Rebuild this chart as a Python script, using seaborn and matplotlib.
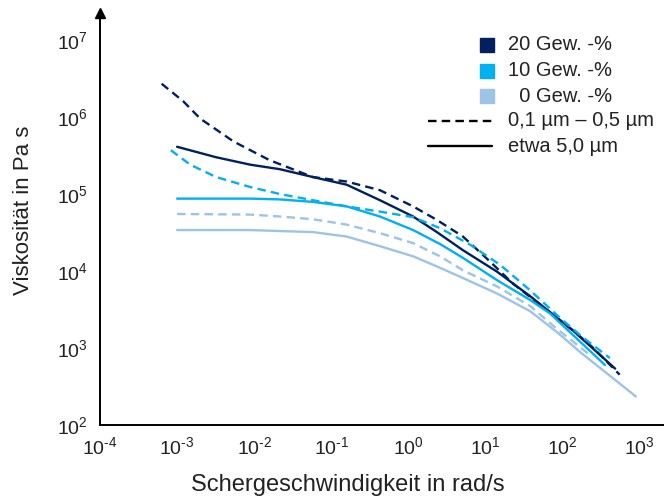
import numpy as np
import pandas as pd
import matplotlib
matplotlib.use("Agg")
import matplotlib.pyplot as plt
from matplotlib.lines import Line2D
import seaborn as sns

# ---- data ----
rate_20_dash = [6.3e-4, 1.2e-3, 2.0e-3, 5.4e-3, 0.0158, 0.0575, 0.158, 0.427, 1.15, 2.34, 5.1, 11.5, 22.9, 56, 135, 245, 550]
visc_20_dash = [2.7e6, 1.6e6, 9.5e5, 4.8e5, 2.75e5, 1.66e5, 1.45e5, 1.12e5, 6.9e4, 4.6e4, 2.8e4, 1.32e4, 6.8e3, 3.4e3, 1.7e3, 1.02e3, 450]

rate_20_solid = [1.0e-3, 3.2e-3, 8.9e-3, 0.0214, 0.0575, 0.158, 0.427, 1.15, 2.34, 5.1, 14.1, 38, 135, 480]
visc_20_solid = [4.1e5, 3.0e5, 2.4e5, 2.1e5, 1.66e5, 1.32e5, 8.3e4, 5.1e4, 3.2e4, 1.86e4, 9.8e3, 4.7e3, 1.7e3, 540]

rate_10_dash = [8.3e-4, 1.48e-3, 3.2e-3, 8.9e-3, 0.0214, 0.0575, 0.158, 0.427, 1.15, 2.57, 6.3, 15.5, 38, 93, 182, 410]
visc_10_dash = [3.7e5, 2.4e5, 1.66e5, 1.23e5, 1.0e5, 8.3e4, 6.9e4, 5.9e4, 5.0e4, 3.6e4, 2.2e4, 1.2e4, 5.6e3, 2.45e3, 1.38e3, 740]

rate_10_solid = [1.0e-3, 8.9e-3, 0.0214, 0.0575, 0.158, 0.427, 1.15, 2.57, 5.1, 14.1, 38, 69, 355]
visc_10_solid = [8.7e4, 8.7e4, 8.5e4, 7.9e4, 6.9e4, 5.1e4, 3.4e4, 2.24e4, 1.48e4, 7.6e3, 4.2e3, 2.8e3, 600]

rate_0_dash = [1.0e-3, 8.9e-3, 0.0214, 0.0575, 0.158, 0.427, 1.15, 2.57, 5.1, 14.1, 38, 80, 230]
visc_0_dash = [5.5e4, 5.4e4, 5.1e4, 4.7e4, 4.0e4, 3.1e4, 2.3e4, 1.55e4, 1.02e4, 6.3e3, 3.5e3, 1.85e3, 800]

rate_0_solid = [1.0e-3, 8.9e-3, 0.0214, 0.0575, 0.158, 0.427, 1.15, 2.57, 5.1, 14.1, 38, 85, 170, 890]
visc_0_solid = [3.4e4, 3.4e4, 3.3e4, 3.2e4, 2.8e4, 2.1e4, 1.55e4, 1.1e4, 8.1e3, 5.1e3, 3.0e3, 1.6e3, 880, 235]

conc_labels = ["20 Gew. -%", "10 Gew. -%", "  0 Gew. -%"]
size_labels = ["0,1 µm – 0,5 µm", "etwa 5,0 µm"]
colors = ["#002060", "#00B0F0", "#9DC3E6"]
x_ticks = [1e-4, 1e-3, 1e-2, 1e-1, 1e0, 1e1, 1e2, 1e3]
x_ticklabels = [r"$10^{\text{-}4}$", r"$10^{\text{-}3}$", r"$10^{\text{-}2}$", r"$10^{\text{-}1}$",
                r"$10^{0}$", r"$10^{1}$", r"$10^{2}$", r"$10^{3}$"]
y_ticks = [1e2, 1e3, 1e4, 1e5, 1e6, 1e7]
y_ticklabels = [r"$10^{2}$", r"$10^{3}$", r"$10^{4}$", r"$10^{5}$", r"$10^{6}$", r"$10^{7}$"]

series = [
    (conc_labels[0], size_labels[0], rate_20_dash, visc_20_dash),
    (conc_labels[0], size_labels[1], rate_20_solid, visc_20_solid),
    (conc_labels[1], size_labels[0], rate_10_dash, visc_10_dash),
    (conc_labels[1], size_labels[1], rate_10_solid, visc_10_solid),
    (conc_labels[2], size_labels[0], rate_0_dash, visc_0_dash),
    (conc_labels[2], size_labels[1], rate_0_solid, visc_0_solid),
]
rows = []
for conc, size, xs, ys in series:
    for i, (xv, yv) in enumerate(zip(xs, ys)):
        rows.append({"conc": conc, "size": size, "rate": xv, "visc": yv, "i": i})
df = pd.DataFrame(rows)

sns.set_theme(style="white")
plt.rcParams["font.family"] = ["Liberation Sans", "DejaVu Sans"]
plt.rcParams["mathtext.default"] = "regular"
plt.rcParams["mathtext.fontset"] = "custom"
plt.rcParams["mathtext.rm"] = "Liberation Sans"
plt.rcParams["mathtext.it"] = "Liberation Sans:italic"
plt.rcParams["mathtext.bf"] = "Liberation Sans:bold"
plt.rcParams["axes.unicode_minus"] = False

W, H = 664, 500
fig = plt.figure(figsize=(W / 100, H / 100), dpi=100)
ax_left, ax_bottom, ax_right, ax_top = 100, 75, 664, 13
ax = fig.add_axes([ax_left / W, ax_bottom / H, (ax_right - ax_left) / W, (H - ax_bottom - ax_top) / H])

sns.lineplot(
    data=df, x="rate", y="visc", hue="conc", style="size",
    hue_order=conc_labels, style_order=size_labels,
    palette=dict(zip(conc_labels, colors)),
    dashes={size_labels[0]: (3.6, 2.2), size_labels[1]: ""},
    estimator=None, sort=False, legend=False, linewidth=1.7, ax=ax,
)

ax.set_xscale("log")
ax.set_yscale("log")
ax.set_xlim(1e-4, 10 ** 3.315)
ax.set_ylim(1e2, 10 ** 7.35)
ax.set_xticks(x_ticks)
ax.set_xticklabels(x_ticklabels)
ax.set_yticks(y_ticks)
ax.set_yticklabels(y_ticklabels)
ax.minorticks_off()
ax.tick_params(axis="both", which="major", direction="out", length=5, width=1.2,
               color="black", labelsize=14, labelcolor="#222222")
ax.tick_params(axis="x", pad=3)
ax.tick_params(axis="y", pad=4)
for s in ["top", "right"]:
    ax.spines[s].set_visible(False)
for s in ["left", "bottom"]:
    ax.spines[s].set_color("black")
    ax.spines[s].set_linewidth(1.4)
ax.grid(False)
ax.plot(0, 1, marker="^", color="black", markersize=7, transform=ax.transAxes, clip_on=False)

ax.set_xlabel("Schergeschwindigkeit in rad/s", fontsize=17, color="#222222")
ax.set_ylabel("Viskosität in Pa s", fontsize=16, color="#222222")
axw = ax_right - ax_left
axh = H - ax_bottom - ax_top
ax.xaxis.set_label_coords((348 - ax_left) / axw, -(474 - (H - ax_bottom)) / axh)
ax.yaxis.set_label_coords((34 - ax_left) / axw, ((H - ax_bottom) - 210) / axh)

# ---- legend (manual, figure pixel layout) ----
def fx(px):
    return px / W

def fy(py):
    return 1 - py / H

rows_y = [45, 71, 96, 121, 146]
for c, lab, yy in zip(colors, conc_labels, rows_y[:3]):
    fig.add_artist(Line2D([fx(487)], [fy(yy)], marker="s", markersize=10, color=c,
                          linestyle="none", transform=fig.transFigure))
    fig.text(fx(508), fy(yy), lab, fontsize=14.5, va="center", ha="left", color="#222222")
for ls, lab, yy in zip([(0, (3.6, 2.2)), "-"], size_labels, rows_y[3:]):
    fig.add_artist(Line2D([fx(428), fx(492)], [fy(yy), fy(yy)], color="black", linewidth=1.7,
                          linestyle=ls, transform=fig.transFigure))
    fig.text(fx(508), fy(yy), lab, fontsize=14.5, va="center", ha="left", color="#222222")

fig.savefig("out.png", dpi=100)
